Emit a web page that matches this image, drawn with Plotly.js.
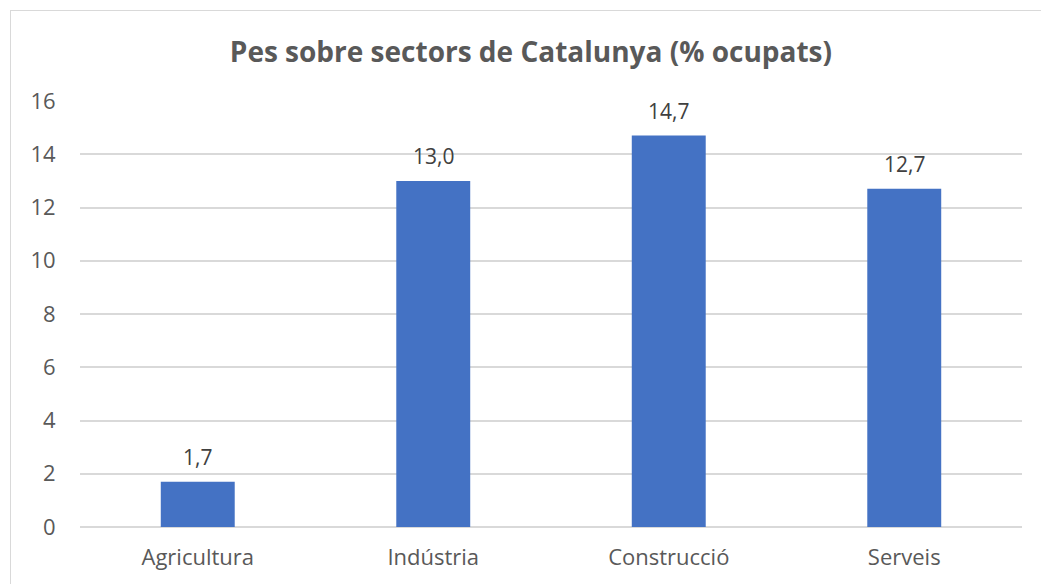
<!DOCTYPE html>
<html>
<head>
<meta charset="utf-8">
<script src="https://cdn.plot.ly/plotly-3.0.1.min.js"></script>
<style>
  body { margin: 0; background: #fff; }
  #wrap { position: relative; width: 1041px; height: 584px; overflow: hidden; }
  #frame { position: absolute; left: 10px; top: 10px; width: 1100px; height: 700px;
           border: 1.5px solid #d9d9d9; pointer-events: none; }
  #chart { position: absolute; left: 0; top: 0; width: 1041px; height: 584px; }
</style>
</head>
<body>
<div id="wrap">
  <div id="frame"></div>
  <div id="chart"></div>
</div>
<script>
// Sector names and share of employed (%)
const sectors = ['Agricultura', 'Indústria', 'Construcció', 'Serveis'];
const shares = [1.7, 13.0, 14.7, 12.7];
const yTicks = [0, 2, 4, 6, 8, 10, 12, 14, 16];

const textFont = { family: 'Open Sans, sans-serif', size: 22, color: '#595959' };

const data = [{
  type: 'bar',
  x: sectors,
  y: shares,
  marker: { color: '#4472C4' },
  hoverinfo: 'x+y'
}];

// Value labels above each bar (comma as decimal mark)
const labels = sectors.map((s, i) => ({
  x: s,
  y: shares[i],
  xref: 'x',
  yref: 'y',
  text: shares[i].toFixed(1).replace('.', ','),
  showarrow: false,
  yanchor: 'bottom',
  yshift: 9,
  font: { family: 'Open Sans, sans-serif', size: 21, color: '#404040' }
}));

const layout = {
  width: 1041,
  height: 584,
  margin: { l: 80, r: 19, t: 101, b: 57 },
  paper_bgcolor: 'rgba(0,0,0,0)',
  plot_bgcolor: 'rgba(0,0,0,0)',
  bargap: 0.686,
  showlegend: false,
  annotations: labels,
  title: {
    text: '<b>Pes sobre sectors de Catalunya (% ocupats)</b>',
    font: { family: 'Open Sans, sans-serif', size: 28, color: '#595959' },
    x: 0.51,
    xref: 'container',
    xanchor: 'center',
    y: 0.91,
    yref: 'container',
    yanchor: 'middle'
  },
  xaxis: {
    showgrid: false,
    showline: false,
    ticks: 'outside',
    ticklen: 11,
    tickcolor: 'rgba(0,0,0,0)',
    tickfont: textFont
  },
  yaxis: {
    range: [0, 16],
    tickvals: yTicks,
    showgrid: true,
    gridcolor: '#d9d9d9',
    gridwidth: 1.5,
    zeroline: true,
    zerolinecolor: '#d9d9d9',
    zerolinewidth: 1.5,
    showline: false,
    ticks: 'outside',
    ticklen: 19,
    tickcolor: 'rgba(0,0,0,0)',
    tickfont: textFont
  }
};

Plotly.newPlot('chart', data, layout, { displayModeBar: false, responsive: false });
</script>
</body>
</html>
